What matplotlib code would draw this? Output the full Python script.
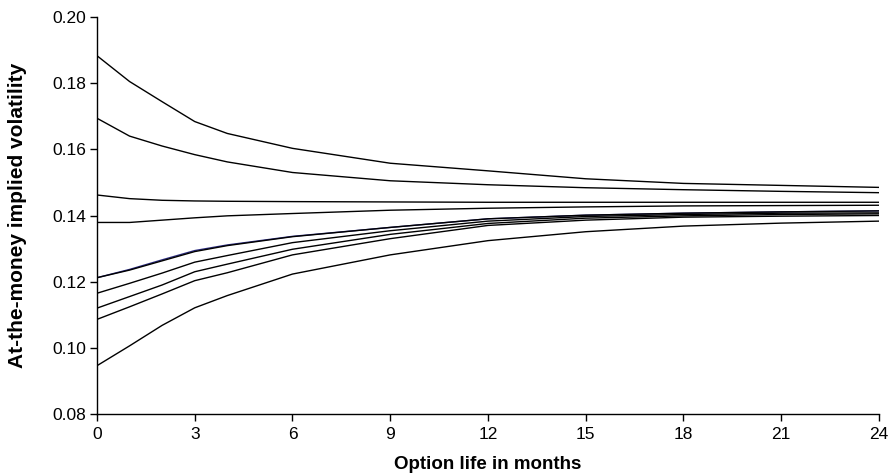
import matplotlib
matplotlib.use("Agg")
import matplotlib.pyplot as plt

plt.rcParams['font.family'] = ['Liberation Sans', 'DejaVu Sans']

# Option life in months
months = [0, 1, 2, 3, 4, 6, 9, 12, 15, 18, 21, 24]

# At-the-money implied volatility term structures
vol_1 = [0.1883, 0.1805, 0.1744, 0.1684, 0.1648, 0.1603, 0.1558, 0.1535, 0.1511, 0.1497, 0.1491, 0.1485]
vol_2 = [0.1694, 0.1640, 0.1610, 0.1584, 0.1562, 0.1530, 0.1505, 0.1493, 0.1484, 0.1478, 0.1473, 0.1469]
vol_3 = [0.1462, 0.1451, 0.1446, 0.1444, 0.1443, 0.1442, 0.1441, 0.1440, 0.1440, 0.1440, 0.1440, 0.1440]
vol_4 = [0.1379, 0.1379, 0.1386, 0.1393, 0.1399, 0.1406, 0.1416, 0.1422, 0.1426, 0.1429, 0.1430, 0.1431]
vol_5 = [0.1212, 0.1235, 0.1263, 0.1291, 0.1309, 0.1336, 0.1364, 0.1390, 0.1401, 0.1407, 0.1411, 0.1414]
vol_5b = [0.1212, 0.1237, 0.1266, 0.1294, 0.1311, 0.1337, 0.1364, 0.1390, 0.1401, 0.1407, 0.1411, 0.1414]
vol_6 = [0.1165, 0.1195, 0.1226, 0.1259, 0.1279, 0.1318, 0.1354, 0.1383, 0.1397, 0.1403, 0.1407, 0.1408]
vol_7 = [0.1120, 0.1155, 0.1190, 0.1230, 0.1253, 0.1298, 0.1343, 0.1376, 0.1392, 0.1399, 0.1403, 0.1405]
vol_8 = [0.1086, 0.1124, 0.1163, 0.1203, 0.1227, 0.1281, 0.1330, 0.1370, 0.1386, 0.1395, 0.1398, 0.1400]
vol_9 = [0.0946, 0.1006, 0.1068, 0.1121, 0.1158, 0.1223, 0.1281, 0.1324, 0.1351, 0.1368, 0.1377, 0.1383]

black_series = [vol_1, vol_2, vol_3, vol_4, vol_5, vol_6, vol_7, vol_8, vol_9]

x_ticks = [0, 3, 6, 9, 12, 15, 18, 21, 24]
y_ticks = [0.08, 0.10, 0.12, 0.14, 0.16, 0.18, 0.20]

fig = plt.figure(figsize=(8.93, 4.75), dpi=100)
ax = fig.add_axes([0.1086, 0.1284, 0.8757, 0.8358])

ax.plot(months, vol_5b, color='#2a2a80', lw=1.0)
for s in black_series:
    ax.plot(months, s, color='black', lw=1.0)

ax.set_xlim(0, 24)
ax.set_ylim(0.08, 0.20)
ax.set_xticks(x_ticks)
ax.set_yticks(y_ticks)
ax.set_yticklabels([f"{v:.2f}" for v in y_ticks])

for side in ('top', 'right'):
    ax.spines[side].set_visible(False)
for side in ('left', 'bottom'):
    ax.spines[side].set_linewidth(1.0)

ax.tick_params(direction='out', length=5, width=1.0, labelsize=12.5)
ax.tick_params(axis='x', pad=4)
ax.tick_params(axis='y', pad=3)

ax.set_xlabel('Option life in months', fontsize=13.5, fontweight='bold')
ax.set_ylabel('At-the-money implied volatility', fontsize=15, fontweight='bold')
ax.xaxis.set_label_coords(0.5, -0.106)
ax.yaxis.set_label_coords(-0.09, 0.5)

fig.savefig('out.png', dpi=100)
